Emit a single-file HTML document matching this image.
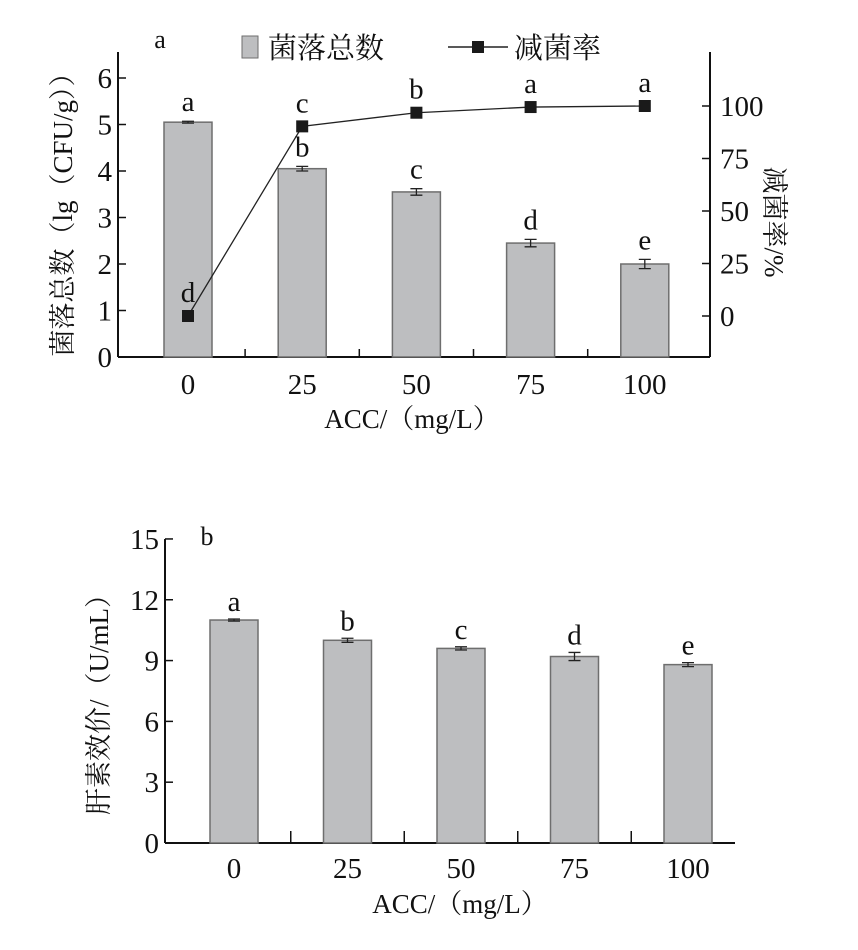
<!DOCTYPE html>
<html><head><meta charset="utf-8"><style>
body{margin:0;background:#fff}
svg text{font-family:"Liberation Serif","Noto Serif CJK SC",serif;fill:#111}
</style></head><body>
<svg id="s" width="858" height="945" viewBox="0 0 858 945" xmlns="http://www.w3.org/2000/svg"></svg>
<script>
const catsA=["0","25","50","75","100"];
const countVals=[5.05,4.05,3.55,2.45,2.0];
const countErr=[0.02,0.05,0.07,0.08,0.1];
const countLetters=["a","b","c","d","e"];
const rateVals=[0,90.3,96.8,99.5,100];
const rateLetters=["d","c","b","a","a"];
const leftTicksA=[0,1,2,3,4,5,6];
const rightTicksA=[0,25,50,75,100];
const catsB=["0","25","50","75","100"];
const heparinVals=[11.0,10.0,9.6,9.2,8.8];
const heparinErr=[0.05,0.1,0.08,0.2,0.1];
const heparinLetters=["a","b","c","d","e"];
const ticksB=[0,3,6,9,12,15];

const S=document.getElementById('s');const NS="http://www.w3.org/2000/svg";
function mk(tag,attrs,name,parent){const e=document.createElementNS(NS,tag);for(const k in attrs)e.setAttribute(k,attrs[k]);


(parent||S).appendChild(e);return e;}
function tx(x,y,s,size,name,anchor,extra){const t=mk('text',Object.assign({x:x,y:y,'font-size':size,'text-anchor':anchor||'middle'},extra||{}),name);t.textContent=s;return t;}
const BAR="#bdbec0",BSTROKE="#6e6e6e";
const FS=29;

// ---- Chart A ----
const aL=118,aR=710,aB=357;
const yA=v=>aB-v*46.5;
const yR=v=>316-v*2.1;
const xA=i=>188+i*114.2;
mk('line',{x1:aL,y1:aB,x2:aR,y2:aB,stroke:'#111','stroke-width':2},'x-axis-a');
mk('line',{x1:aL,y1:aB,x2:aL,y2:52,stroke:'#111','stroke-width':2},'y-axis-left-a');
mk('line',{x1:aR,y1:aB,x2:aR,y2:52,stroke:'#111','stroke-width':2},'y-axis-right-a');
leftTicksA.forEach(v=>{mk('line',{x1:aL,y1:yA(v),x2:aL+8,y2:yA(v),stroke:'#111','stroke-width':1.5},'y-tick-left');
tx(aL-6,yA(v)+10,String(v),FS,'y-tick-label-left','end');});
rightTicksA.forEach(v=>{mk('line',{x1:aR,y1:yR(v),x2:aR-8,y2:yR(v),stroke:'#111','stroke-width':1.5},'y-tick-right');
tx(aR+10,yR(v)+10,String(v),FS,'y-tick-label-right','start');});
for(let i=0;i<4;i++){const xm=(xA(i)+xA(i+1))/2;mk('line',{x1:xm,y1:aB,x2:xm,y2:aB-8,stroke:'#111','stroke-width':1.5},'x-tick');}
catsA.forEach((c,i)=>{
 const x=xA(i),y=yA(countVals[i]);
 mk('rect',{x:x-24,y:y,width:48,height:aB-y,fill:BAR,stroke:BSTROKE,'stroke-width':1.5},'bar-count-'+c);
 const e1=yA(countVals[i]+countErr[i]),e2=yA(countVals[i]-countErr[i]);
 mk('path',{d:`M${x},${e1}V${e2}M${x-6},${e1}H${x+6}M${x-6},${e2}H${x+6}`,stroke:'#222','stroke-width':1.3,fill:'none'},'error-bar-count');
 tx(x,yA(countVals[i]+countErr[i])-10,countLetters[i],FS,'sig-letter-count');
 tx(x,394,c,FS,'x-tick-label');
});
let d="";rateVals.forEach((v,i)=>{d+=(i?"L":"M")+xA(i)+","+yR(v);});
mk('path',{d:d,stroke:'#222','stroke-width':1.3,fill:'none'},'rate-line');
rateVals.forEach((v,i)=>{mk('rect',{x:xA(i)-6,y:yR(v)-6,width:12,height:12,fill:'#1a1a1a'},'rate-point-'+catsA[i]);
 tx(xA(i),yR(v)-14,rateLetters[i],FS,'sig-letter-rate');});
tx(160,48,'a',26,'panel-label-a');
mk('rect',{x:242,y:36,width:16,height:22,fill:BAR,stroke:BSTROKE},'legend-swatch-count');
tx(268,58,'菌落总数',29,'legend-label-count','start');
mk('line',{x1:448,y1:47,x2:508,y2:47,stroke:'#222','stroke-width':1.5},'legend-line-rate');
mk('rect',{x:472,y:41,width:12,height:12,fill:'#1a1a1a'},'legend-marker-rate');
tx(514,58,'减菌率',29,'legend-label-rate','start');
tx(412,428,'ACC/（mg/L）',27,'x-axis-title-a');
tx(0,0,'菌落总数（lg（CFU/g））',27,'y-axis-title-left-a','middle',{transform:'translate(72,208) rotate(-90)'});
tx(0,0,'减菌率/%',27,'y-axis-title-right-a','middle',{transform:'translate(765,222) rotate(90)'});

// ---- Chart B ----
const bL=165,bR=735,bB=843;
const yB=v=>bB-v*20.27;
const xB=i=>234+i*113.5;
mk('line',{x1:bL,y1:bB,x2:bR,y2:bB,stroke:'#111','stroke-width':2},'x-axis-b');
mk('line',{x1:bL,y1:bB,x2:bL,y2:yB(15),stroke:'#111','stroke-width':2},'y-axis-b');
ticksB.forEach(v=>{mk('line',{x1:bL,y1:yB(v),x2:bL+8,y2:yB(v),stroke:'#111','stroke-width':1.5},'y-tick-b');
tx(bL-6,yB(v)+10,String(v),FS,'y-tick-label-b','end');});
for(let i=0;i<4;i++){const xm=(xB(i)+xB(i+1))/2;mk('line',{x1:xm,y1:bB,x2:xm,y2:bB-12,stroke:'#111','stroke-width':1.5},'x-tick-b');}
catsB.forEach((c,i)=>{
 const x=xB(i),y=yB(heparinVals[i]);
 mk('rect',{x:x-24,y:y,width:48,height:bB-y,fill:BAR,stroke:BSTROKE,'stroke-width':1.5},'bar-heparin-'+c);
 const e1=yB(heparinVals[i]+heparinErr[i]),e2=yB(heparinVals[i]-heparinErr[i]);
 mk('path',{d:`M${x},${e1}V${e2}M${x-6},${e1}H${x+6}M${x-6},${e2}H${x+6}`,stroke:'#222','stroke-width':1.3,fill:'none'},'error-bar-heparin');
 tx(x,e1-8,heparinLetters[i],FS,'sig-letter-heparin');
 tx(x,878,c,FS,'x-tick-label-b');
});
tx(207,545,'b',26,'panel-label-b');
tx(460,913,'ACC/（mg/L）',27,'x-axis-title-b');
tx(0,0,'肝素效价/（U/mL）',27,'y-axis-title-b','middle',{transform:'translate(108,698) rotate(-90)'});
</script>
</body></html>
